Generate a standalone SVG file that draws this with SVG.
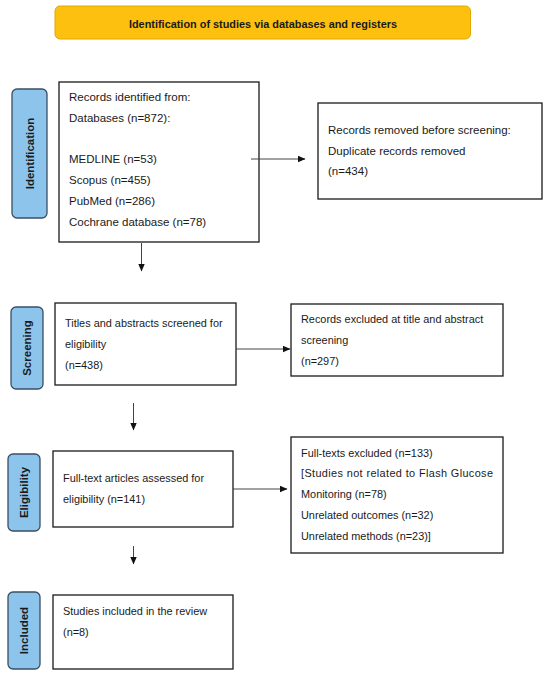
<svg xmlns="http://www.w3.org/2000/svg" width="550" height="679" viewBox="0 0 550 679">
<defs>
<style>
.box{fill:#fff;stroke:#1a1a1a;stroke-width:1.3}
.lab{fill:#8cc4ec;stroke:#3a4f63;stroke-width:1.3}
.t{font-family:"Liberation Sans",Arial,sans-serif;font-size:11.5px;fill:#1a1a1a}
.s{font-size:10.9px}
.lt{font-family:"Liberation Sans",Arial,sans-serif;font-size:11.5px;font-weight:bold;fill:#1a1a1a;text-anchor:middle}
.c{stroke:#444;stroke-width:1;fill:none;marker-end:url(#ah)}
</style>
<marker id="ah" markerWidth="8" markerHeight="8" refX="7" refY="4" orient="auto" markerUnits="userSpaceOnUse">
<path d="M0,0.8 L7.5,4 L0,7.2 Z" fill="#111"/>
</marker>
</defs>
<rect width="550" height="679" fill="#fff"/>
<g id="header">
<rect x="55" y="6" width="415.5" height="33" rx="5" fill="#fdc00f" stroke="#e0a800" stroke-width="1"/>
<text x="263" y="28" class="t" style="font-weight:bold;font-size:10.9px" text-anchor="middle">Identification of studies via databases and registers</text>
</g>
<g id="label-identification">
<rect x="12" y="89" width="35" height="129" rx="5" class="lab"/>
<text class="lt" transform="translate(33.5,153.5) rotate(-90)">Identification</text>
</g>
<g id="label-screening">
<rect x="11" y="307" width="32" height="82" rx="5" class="lab"/>
<text class="lt" transform="translate(31,348) rotate(-90)">Screening</text>
</g>
<g id="label-eligibility">
<rect x="8" y="454" width="32" height="77" rx="5" class="lab"/>
<text class="lt" transform="translate(28,492.5) rotate(-90)">Eligibility</text>
</g>
<g id="label-included">
<rect x="8" y="592" width="32" height="77" rx="5" class="lab"/>
<text class="lt" transform="translate(28,630.5) rotate(-90)">Included</text>
</g>
<g id="records-identified">
<rect x="59" y="82" width="200" height="160" class="box"/>
<text class="t" x="69" y="101">Records identified from:</text>
<text class="t" x="69" y="122">Databases (n=872):</text>
<text class="t" x="69" y="163">MEDLINE (n=53)</text>
<text class="t" x="69" y="184">Scopus (n=455)</text>
<text class="t" x="69" y="205">PubMed (n=286)</text>
<text class="t" x="69" y="226">Cochrane database (n=78)</text>
</g>
<g id="records-removed">
<rect x="318" y="103" width="224" height="96" class="box"/>
<text class="t" x="328" y="134">Records removed before screening:</text>
<text class="t" x="328" y="155">Duplicate records removed</text>
<text class="t" x="328" y="175">(n=434)</text>
</g>
<g id="screened">
<rect x="55" y="303" width="181" height="82" class="box"/>
<text class="t s" x="65" y="327">Titles and abstracts screened for</text>
<text class="t s" x="65" y="348">eligibility</text>
<text class="t s" x="65" y="369">(n=438)</text>
</g>
<g id="excluded-screening">
<rect x="291" y="304" width="212" height="72" class="box"/>
<text class="t s" x="301" y="323">Records excluded at title and abstract</text>
<text class="t s" x="301" y="344">screening</text>
<text class="t s" x="301" y="365">(n=297)</text>
</g>
<g id="fulltext">
<rect x="53" y="451" width="180" height="76" class="box"/>
<text class="t s" x="63" y="482">Full-text articles assessed for</text>
<text class="t s" x="63" y="503">eligibility (n=141)</text>
</g>
<g id="fulltext-excluded">
<rect x="291" y="437" width="212" height="116" class="box"/>
<text class="t s" x="301" y="457">Full-texts excluded (n=133)</text>
<text class="t s" x="301" y="477" textLength="192" lengthAdjust="spacing">[Studies not related to Flash Glucose</text>
<text class="t s" x="301" y="498">Monitoring (n=78)</text>
<text class="t s" x="301" y="519">Unrelated outcomes (n=32)</text>
<text class="t s" x="301" y="540">Unrelated methods (n=23)]</text>
</g>
<g id="included">
<rect x="53" y="595" width="180" height="74" class="box"/>
<text class="t s" x="63" y="615">Studies included in the review</text>
<text class="t s" x="63" y="636">(n=8)</text>
</g>
<g id="connectors">
<line x1="251" y1="159" x2="305" y2="159" class="c"/>
<line x1="141.5" y1="243" x2="141.5" y2="271" class="c"/>
<line x1="236" y1="349" x2="290" y2="349" class="c"/>
<line x1="133.5" y1="403" x2="133.5" y2="430" class="c"/>
<line x1="233" y1="489" x2="287" y2="489" class="c"/>
<line x1="133.5" y1="546" x2="133.5" y2="564" class="c"/>
</g>
</svg>
